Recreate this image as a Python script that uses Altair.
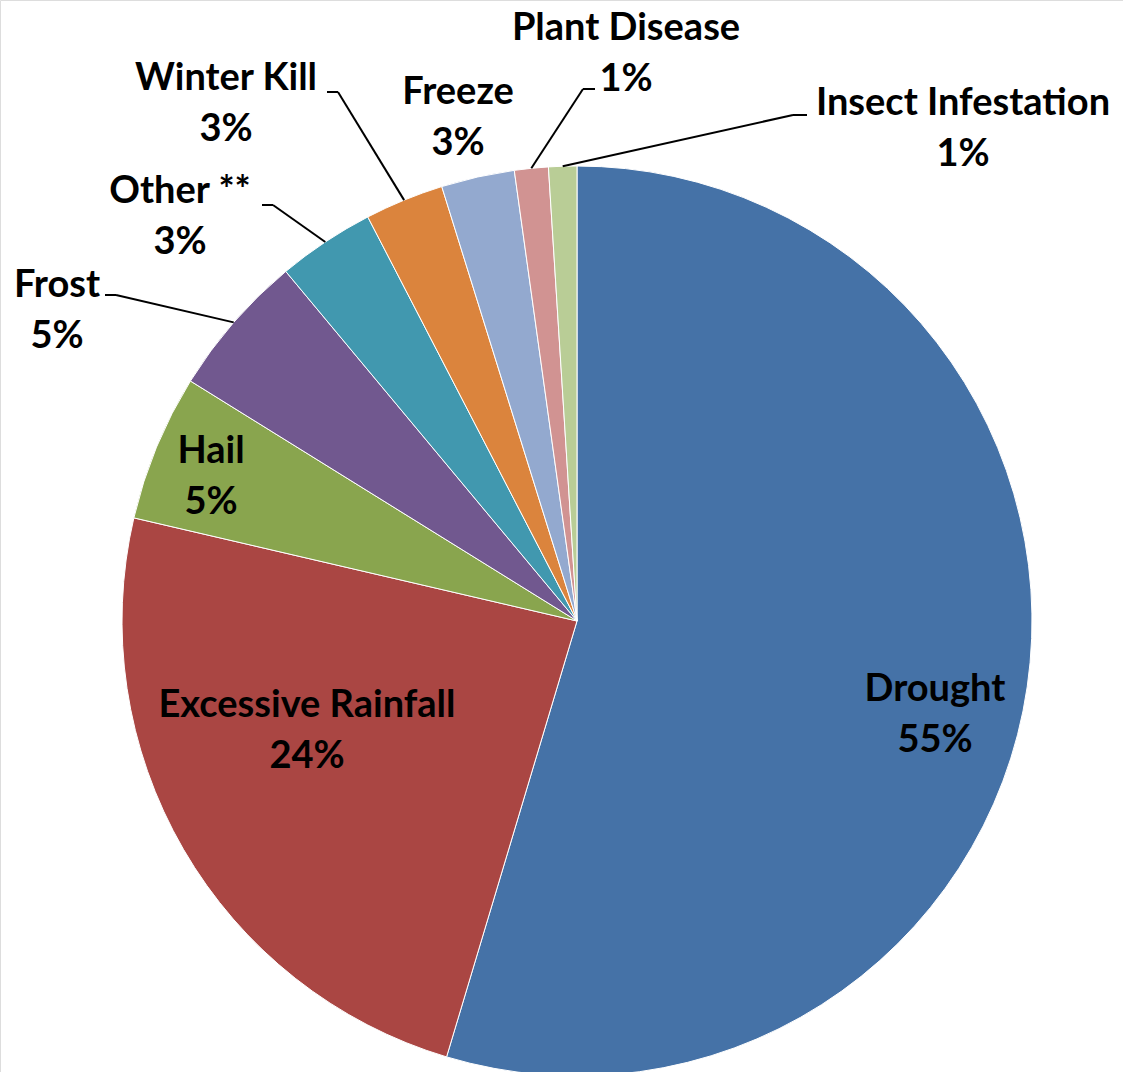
import altair as alt
import pandas as pd

# ---- data ----
categories = ["Drought", "Excessive Rainfall", "Hail", "Frost", "Other **",
              "Winter Kill", "Freeze", "Plant Disease", "Insect Infestation"]
values = [54.6, 24.0, 5.2, 5.1, 3.45, 2.8, 2.6, 1.2, 1.0]
colors = ["#4572A7", "#AA4643", "#89A54E", "#71588F", "#4198AF",
          "#DB843D", "#93A9CF", "#D19392", "#B9CD96"]

# ---- layout (pixels) ----
CX, CY, R = 577, 621, 455
FONT = "Lato"
FS = 38
LH = 51
label_offset = {  # label block centre relative to pie centre
    "Drought": (358, 94), "Excessive Rainfall": (-270, 110), "Hail": (-366, -144),
    "Frost": (-520, -310), "Other **": (-397, -404), "Winter Kill": (-351, -517),
    "Freeze": (-119, -503), "Plant Disease": (49, -567), "Insect Infestation": (386, -492),
}
leaders = {  # elbow point, end point (absolute px)
    "Frost": ((116, 295), (105, 295)),
    "Other **": ((273, 205), (262, 205)),
    "Winter Kill": ((338, 92), (327, 92)),
    "Plant Disease": ((583, 89), (595, 89)),
    "Insect Infestation": ((793, 115), (807, 115)),
}

df = pd.DataFrame({"category": categories, "value": values,
                   "idx": list(range(len(categories)))})
df["label"] = [f"{c}\n{round(v)}%" for c, v in zip(categories, values)]
df["lx"] = [CX + label_offset[c][0] for c in categories]
df["ly"] = [CY + label_offset[c][1] for c in categories]
df["has_leader"] = [c in leaders for c in categories]
df["bx"] = [leaders[c][0][0] if c in leaders else 0 for c in categories]
df["by"] = [leaders[c][0][1] if c in leaders else 0 for c in categories]
df["tx"] = [leaders[c][1][0] if c in leaders else 0 for c in categories]
df["ty"] = [leaders[c][1][1] if c in leaders else 0 for c in categories]

base = alt.Chart(df)

pie = base.mark_arc(outerRadius=R, stroke="white", strokeWidth=1).encode(
    theta=alt.Theta("value:Q", stack=True),
    order=alt.Order("idx:Q", sort="ascending"),
    color=alt.Color("category:N", scale=alt.Scale(domain=categories, range=colors), legend=None),
    x=alt.value(CX), y=alt.value(CY),
)

labels = base.mark_text(font=FONT, fontSize=FS, fontWeight="bold", color="black",
                        align="center", baseline="middle", lineBreak="\n",
                        lineHeight=LH, dy=-LH / 2).encode(
    x=alt.X("lx:Q", scale=None, axis=None),
    y=alt.Y("ly:Q", scale=None, axis=None),
    text="label:N",
)

lead_base = base.transform_joinaggregate(total="sum(value)").transform_window(
    cum="sum(value)", sort=[alt.SortField("idx", order="ascending")], frame=[None, 0]
).transform_calculate(
    mid="(datum.cum - datum.value/2) / datum.total * 2 * PI",
).transform_calculate(
    ex=f"{CX} + {R} * sin(datum.mid)",
    ey=f"{CY} - {R} * cos(datum.mid)",
).transform_filter("datum.has_leader")

lead1 = lead_base.mark_rule(color="black", strokeWidth=2).encode(
    x=alt.X("ex:Q", scale=None, axis=None), y=alt.Y("ey:Q", scale=None, axis=None),
    x2="bx:Q", y2="by:Q",
)
lead2 = lead_base.mark_rule(color="black", strokeWidth=2).encode(
    x=alt.X("bx:Q", scale=None, axis=None), y=alt.Y("by:Q", scale=None, axis=None),
    x2="tx:Q", y2="ty:Q",
)

chart = alt.layer(pie, lead1, lead2, labels).properties(
    width=1123, height=1072, autosize=alt.AutoSizeParams(type="none"), padding=0,
).configure_view(stroke=None).configure(background="white")

chart.save("out.html", embed_options={"renderer": "svg", "actions": False})
